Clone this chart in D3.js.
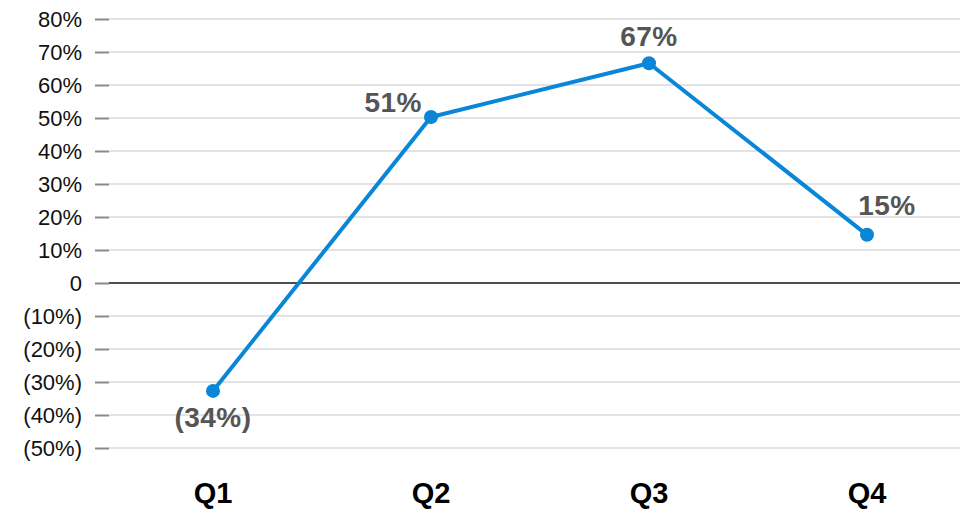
<!DOCTYPE html>
<html>
<head>
<meta charset="utf-8">
<script src="https://cdn.jsdelivr.net/npm/d3@7"></script>
<style>
  body { margin: 0; background: #fff; }
  svg { display: block; font-family: "Liberation Sans", Arial, Helvetica, sans-serif; }
</style>
</head>
<body>
<svg id="chart"></svg>
<script>
const quarters = ["Q1", "Q2", "Q3", "Q4"];
const growth = [-0.327, 0.503, 0.666, 0.146];
const growthLabels = ["(34%)", "51%", "67%", "15%"];
const yTicks = [0.8, 0.7, 0.6, 0.5, 0.4, 0.3, 0.2, 0.1, 0, -0.1, -0.2, -0.3, -0.4, -0.5];

const width = 960, height = 513;
const svg = d3.select("#chart").attr("width", width).attr("height", height);

const x = d3.scalePoint().domain(quarters).range([213, 867]);
const y = d3.scaleLinear().domain([-0.5, 0.8]).range([448, 19]);

const fmt = v => {
  if (Math.abs(v) < 1e-9) return "0";
  const p = Math.round(Math.abs(v) * 100) + "%";
  return v < 0 ? "(" + p + ")" : p;
};

// gridlines
svg.append("g")
  .selectAll("line")
  .data(yTicks.filter(d => d !== 0))
  .join("line")
    .attr("x1", 109).attr("x2", width)
    .attr("y1", d => y(d)).attr("y2", d => y(d))
    .attr("stroke", "#e3e3e3")
    .attr("stroke-width", 2);

// y axis
const yAxis = svg.append("g")
  .attr("transform", "translate(109,0)")
  .call(d3.axisLeft(y).tickValues(yTicks).tickFormat(fmt).tickSize(14).tickPadding(13));
yAxis.select(".domain").remove();
yAxis.selectAll(".tick line").attr("stroke", "#8a8a8a").attr("stroke-width", 2);
yAxis.selectAll(".tick text")
  .attr("fill", "#111")
  .style("font-size", "22px")
  .style("font-family", "'Liberation Sans', Arial, sans-serif");

// zero line
svg.append("line")
  .attr("x1", 109).attr("x2", width)
  .attr("y1", y(0)).attr("y2", y(0))
  .attr("stroke", "#4d4d52")
  .attr("stroke-width", 2);

// x labels
svg.append("g")
  .selectAll("text")
  .data(quarters)
  .join("text")
    .attr("x", d => x(d))
    .attr("y", 503)
    .attr("text-anchor", "middle")
    .attr("fill", "#000")
    .style("font-size", "29px")
    .style("font-weight", "bold")
    .text(d => d);

const pts = quarters.map((q, i) => ({ q, v: growth[i], label: growthLabels[i] }));

// line
svg.append("path")
  .datum(pts)
  .attr("fill", "none")
  .attr("stroke", "#0a86d8")
  .attr("stroke-width", 4)
  .attr("stroke-linejoin", "round")
  .attr("d", d3.line().x(d => x(d.q)).y(d => y(d.v)));

svg.append("g")
  .selectAll("circle")
  .data(pts)
  .join("circle")
    .attr("cx", d => x(d.q))
    .attr("cy", d => y(d.v))
    .attr("r", 7)
    .attr("fill", "#0a86d8");

// value labels, placed around each point
const place = [
  { dx: 0, dy: 36, anchor: "middle" },
  { dx: -9, dy: -5, anchor: "end" },
  { dx: 0, dy: -17, anchor: "middle" },
  { dx: 20, dy: -20, anchor: "middle" }
];
svg.append("g")
  .selectAll("text")
  .data(pts)
  .join("text")
    .attr("x", (d, i) => x(d.q) + place[i].dx)
    .attr("y", (d, i) => y(d.v) + place[i].dy)
    .attr("text-anchor", (d, i) => place[i].anchor)
    .attr("fill", "#555")
    .style("font-size", "28px")
    .style("font-weight", "bold")
    .style("letter-spacing", "0.5px")
    .text(d => d.label);
</script>
</body>
</html>
